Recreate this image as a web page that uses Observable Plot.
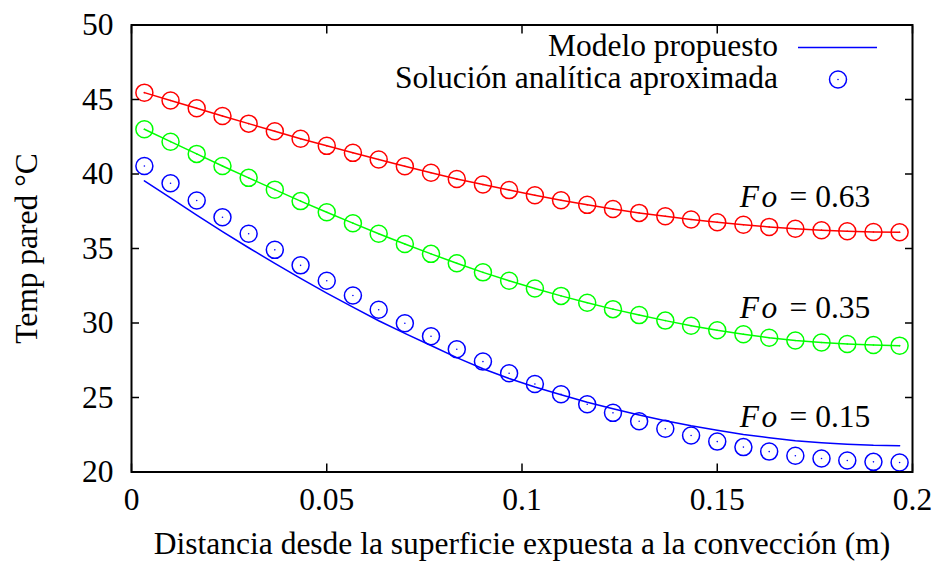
<!DOCTYPE html>
<html>
<head>
<meta charset="utf-8">
<script src="https://cdn.jsdelivr.net/npm/d3@7"></script>
<script src="https://cdn.jsdelivr.net/npm/@observablehq/plot@0.6"></script>
<style>
  html, body { margin: 0; padding: 0; background: #fff; }
  #chart svg { display: block; }
</style>
</head>
<body>
<div id="chart"></div>
<script>
// ---------- data ----------
const xPos = [0.0033,0.0100,0.0167,0.0233,0.0300,0.0367,0.0433,0.0500,0.0567,0.0633,
              0.0700,0.0767,0.0833,0.0900,0.0967,0.1033,0.1100,0.1167,0.1233,0.1300,
              0.1367,0.1433,0.1500,0.1567,0.1633,0.1700,0.1767,0.1833,0.1900,0.1967];

const seriesNames = ["0.63", "0.35", "0.15"];

// Solución analítica aproximada (circles)
const analytic063 = [45.46,44.93,44.41,43.89,43.38,42.87,42.37,41.89,41.42,40.97,
                     40.52,40.08,39.67,39.29,38.92,38.57,38.24,37.93,37.65,37.39,
                     37.16,36.95,36.76,36.59,36.45,36.33,36.23,36.16,36.11,36.09];
const analytic035 = [43.00,42.17,41.35,40.54,39.74,38.95,38.18,37.43,36.70,35.99,
                     35.30,34.64,34.01,33.40,32.83,32.31,31.82,31.36,30.93,30.53,
                     30.16,29.82,29.51,29.24,29.01,28.83,28.69,28.59,28.52,28.48];
const analytic015 = [40.54,39.38,38.22,37.10,35.99,34.91,33.87,32.84,31.85,30.89,
                     29.98,29.11,28.24,27.41,26.63,25.91,25.22,24.55,23.97,23.41,
                     22.90,22.45,22.04,21.67,21.37,21.09,20.91,20.77,20.68,20.64];

// Modelo propuesto (lines)
const model063 = [45.46,44.93,44.41,43.89,43.38,42.87,42.37,41.89,41.42,40.97,
                  40.52,40.08,39.67,39.29,38.92,38.57,38.24,37.93,37.65,37.39,
                  37.16,36.95,36.76,36.59,36.45,36.33,36.23,36.16,36.11,36.09];
const model035 = [43.00,42.17,41.35,40.54,39.74,38.95,38.18,37.43,36.70,35.99,
                  35.30,34.64,34.01,33.40,32.83,32.31,31.82,31.36,30.93,30.53,
                  30.16,29.82,29.51,29.24,29.01,28.83,28.69,28.59,28.52,28.48];
const model015 = [39.54,38.39,37.24,36.14,35.05,34.00,32.99,32.00,31.06,30.15,
                  29.30,28.49,27.68,26.93,26.27,25.71,25.19,24.68,24.25,23.83,
                  23.44,23.10,22.80,22.52,22.30,22.09,21.96,21.86,21.79,21.76];

// annotation labels "Fo = ..."
const foLabelX = [0.1892, 0.1892, 0.1892];
const foLabelY = [37.80, 30.31, 23.05];

const xTicks = [0, 0.05, 0.1, 0.15, 0.2];
const xTickLabels = ["0", "0.05", "0.1", "0.15", "0.2"];
const yTicks = [20, 25, 30, 35, 40, 45, 50];
const yTickLabels = ["20", "25", "30", "35", "40", "45", "50"];

const xLabel = "Distancia desde la superficie expuesta a la convección (m)";
const yLabel = "Temp pared °C";
const legendLabels = ["Modelo propuesto", "Solución analítica aproximada"];

// ---------- build tables ----------
const analyticAll = [analytic063, analytic035, analytic015];
const modelAll = [model063, model035, model015];
const points = [];
const lines = [];
seriesNames.forEach((s, k) => {
  xPos.forEach((x, i) => {
    points.push({x, T: analyticAll[k][i], s});
    lines.push({x, T: modelAll[k][i], s});
  });
});
const foLabels = seriesNames.map((s, k) => ({x: foLabelX[k], y: foLabelY[k], s}));

// ---------- styles ----------
const W = 938, H = 561;
const M = {left: 131, right: 26, top: 24.5, bottom: 89.5};
const FONT = "'Liberation Serif', 'Times New Roman', serif";
const FS = 31.5;
const colors = ["#ff0000", "#00ff00", "#0000ff"];

function legendMark() {
  const right = W - M.right, top = M.top;
  const g = d3.create("svg:g")
    .attr("font-family", FONT).attr("font-size", FS).attr("fill", "black");
  g.append("text").attr("x", right - 134).attr("y", top + 31.5)
    .attr("text-anchor", "end").text(legendLabels[0]);
  g.append("text").attr("x", right - 134).attr("y", top + 63.5)
    .attr("text-anchor", "end").text(legendLabels[1]);
  g.append("line").attr("x1", right - 114).attr("x2", right - 35)
    .attr("y1", top + 23).attr("y2", top + 23)
    .attr("stroke", colors[2]).attr("stroke-width", 1.5);
  g.append("circle").attr("cx", right - 74).attr("cy", top + 55)
    .attr("r", 8.5).attr("fill", "none").attr("stroke", colors[2]).attr("stroke-width", 1.5);
  g.append("circle").attr("cx", right - 74).attr("cy", top + 55)
    .attr("r", 0.8).attr("fill", colors[2]);
  return g.node();
}

const chart = Plot.plot({
  width: W,
  height: H,
  marginLeft: M.left,
  marginRight: M.right,
  marginTop: M.top,
  marginBottom: M.bottom,
  style: {background: "white", fontFamily: FONT},
  x: {domain: [0, 0.2]},
  y: {domain: [20, 50]},
  color: {domain: seriesNames, range: colors},
  marks: [
    Plot.line(lines, {x: "x", y: "T", z: "s", stroke: "s", strokeWidth: 1.5}),
    Plot.dot(points, {x: "x", y: "T", stroke: "s", r: 8.5, strokeWidth: 1.5}),
    Plot.dot(points, {x: "x", y: "T", fill: "s", r: 0.8}),
    // ticks on all four sides (inward)
    Plot.axisX(xTicks, {anchor: "bottom", tickSize: -8, strokeWidth: 1.5, tickFormat: () => "", label: null}),
    Plot.axisX(xTicks, {anchor: "top", tickSize: -8, strokeWidth: 1.5, tickFormat: () => "", label: null}),
    Plot.axisY(yTicks, {anchor: "left", tickSize: -8, strokeWidth: 1.5, tickFormat: () => "", label: null}),
    Plot.axisY(yTicks, {anchor: "right", tickSize: -8, strokeWidth: 1.5, tickFormat: () => "", label: null}),
    // tick labels
    Plot.axisX(xTicks, {anchor: "bottom", tickSize: 0, tickPadding: 15.5, fontSize: FS, fontFamily: FONT,
      fill: "black", tickFormat: d => xTickLabels[xTicks.indexOf(d)], label: null}),
    Plot.axisY(yTicks, {anchor: "left", tickSize: 0, tickPadding: 18, fontSize: FS, fontFamily: FONT,
      fill: "black", tickFormat: d => yTickLabels[yTicks.indexOf(d)], label: null}),
    Plot.frame({stroke: "black", strokeWidth: 2}),
    // Fo labels
    Plot.text(foLabels, {x: "x", y: "y", text: d => "= " + d.s, textAnchor: "end", lineAnchor: "bottom",
      fontSize: FS, fontFamily: FONT, fill: "black"}),
    Plot.text(foLabels, {x: "x", y: "y", text: () => "F\u200Ao", textAnchor: "end", lineAnchor: "bottom",
      dx: -93, fontSize: FS, fontFamily: FONT, fontStyle: "italic", fill: "black"}),
    // axis titles
    Plot.text([xLabel], {frameAnchor: "bottom", text: d => d, dy: 82, lineAnchor: "bottom",
      textAnchor: "middle", fontSize: FS, fontFamily: FONT, fill: "black"}),
    Plot.text([yLabel], {frameAnchor: "left", text: d => d, dx: -95, rotate: -90, lineAnchor: "bottom",
      textAnchor: "middle", fontSize: FS, fontFamily: FONT, fill: "black"}),
    legendMark
  ]
});
document.getElementById("chart").appendChild(chart);
</script>
</body>
</html>
